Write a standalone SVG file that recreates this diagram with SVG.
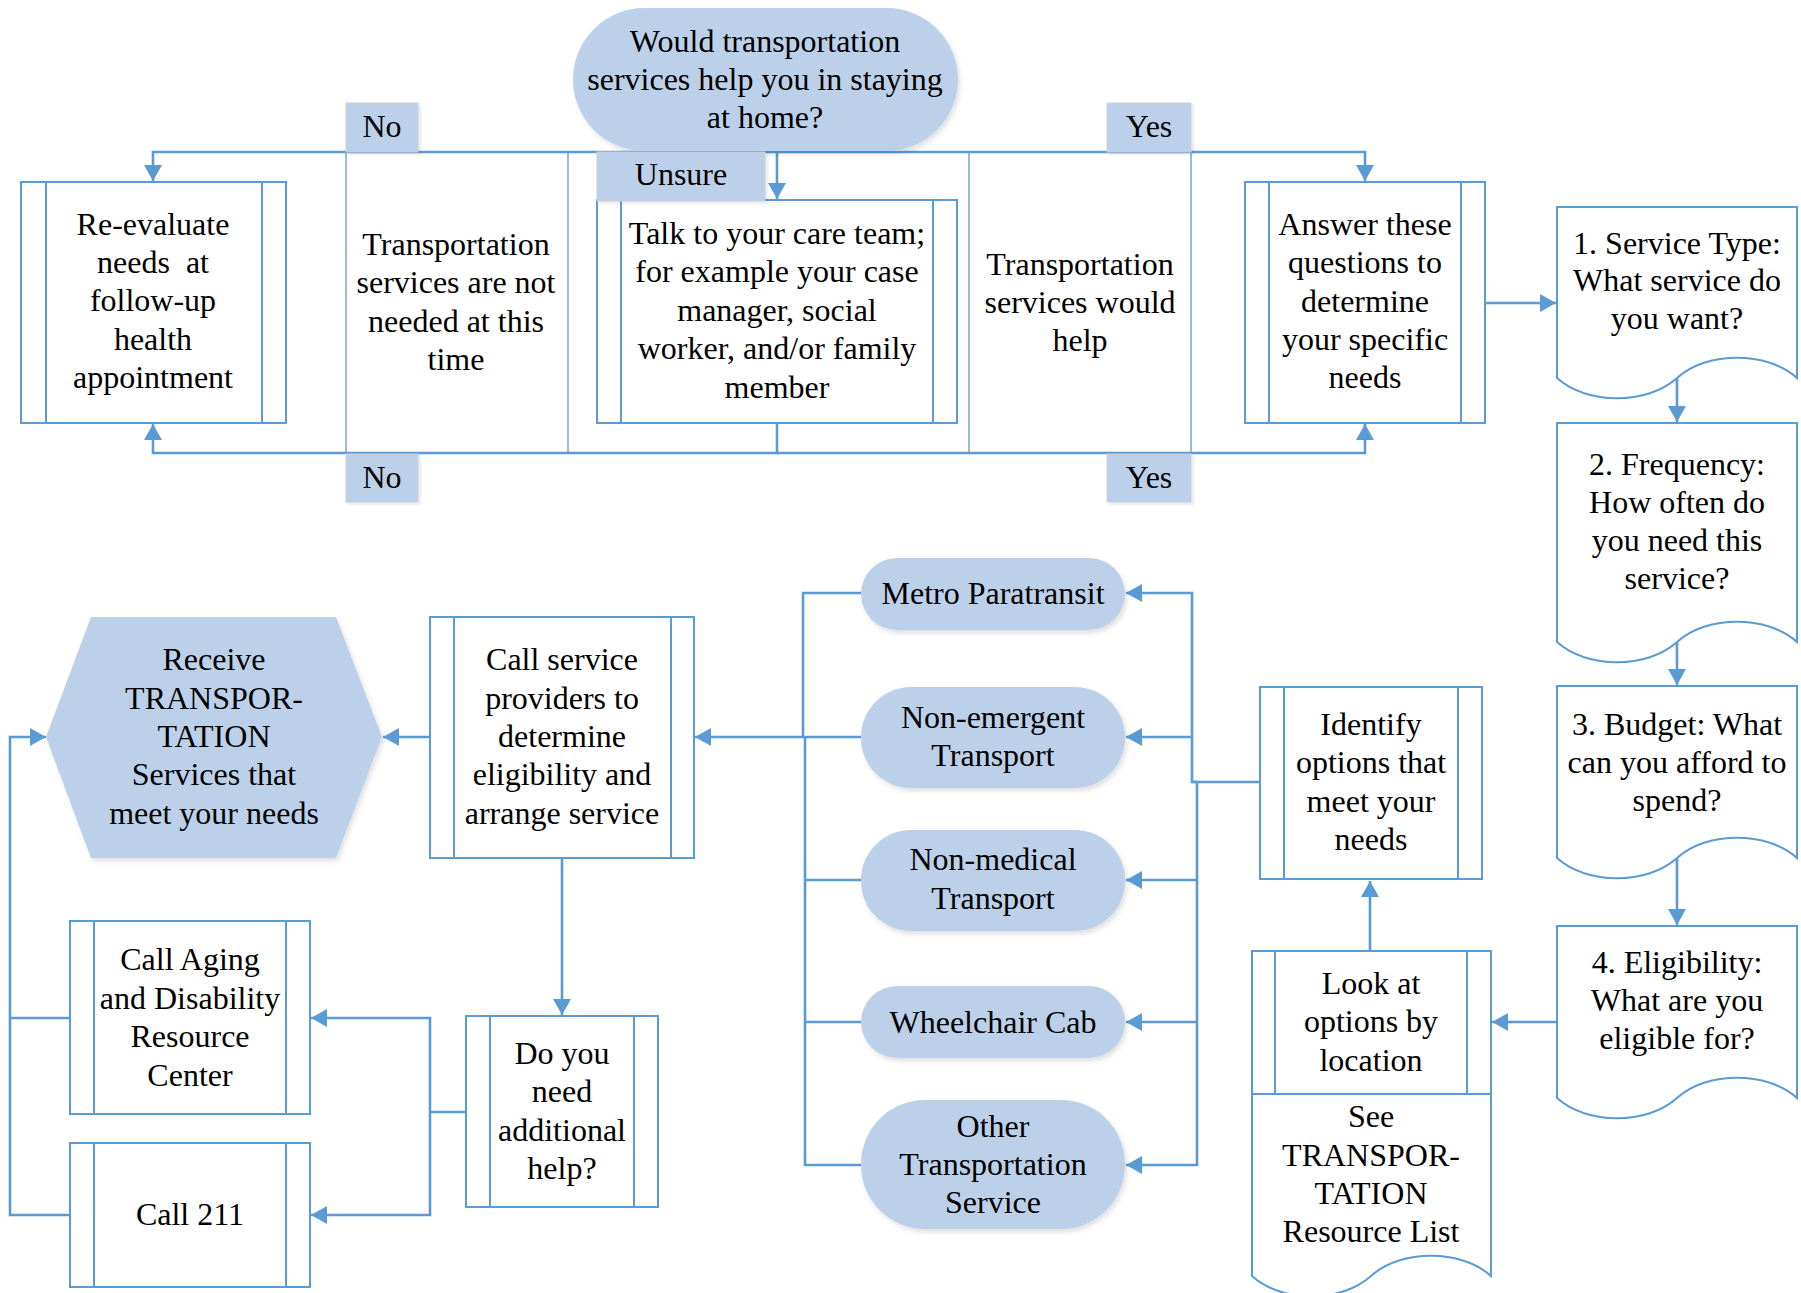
<svg xmlns="http://www.w3.org/2000/svg" width="1801" height="1293" viewBox="0 0 1801 1293">
<style>
text{font-family:"Liberation Serif","Times New Roman",serif;font-size:32px;fill:#000;text-anchor:middle}
.box{fill:#fff;stroke:#5B9BD5;stroke-width:2}
.in{stroke:#5B9BD5;stroke-width:2;fill:none}
.term{fill:#BDD0EA;filter:url(#sh)}
.lab{fill:#BDD0EA;stroke:#C9CFD9;stroke-width:1;filter:url(#sh2)}
.c{fill:none;stroke:#5B9BD5;stroke-width:2.6}
.ca{fill:none;stroke:#5B9BD5;stroke-width:2.6;marker-end:url(#ah)}
.thin{fill:none;stroke:#5B9BD5;stroke-width:1.3}
</style>
<defs>
<marker id="ah" markerUnits="userSpaceOnUse" markerWidth="16" markerHeight="18" viewBox="0 0 16 18" refX="16" refY="9" orient="auto"><path d="M0,0 L16,9 L0,18 z" fill="#5B9BD5"/></marker>
<filter id="sh" x="-10%" y="-10%" width="125%" height="130%"><feDropShadow dx="2" dy="3" stdDeviation="2.5" flood-color="#000" flood-opacity="0.13"/></filter>
<filter id="sh2" x="-10%" y="-10%" width="130%" height="140%"><feDropShadow dx="2" dy="2" stdDeviation="1.5" flood-color="#000" flood-opacity="0.1"/></filter>
</defs>

<g id="lanes">
<path class="thin" d="M346,152V453M568,152V453M969,152V453M1191,152V453"/>
</g>

<g id="connectors">
<path class="ca" d="M765,152H153V181"/>
<path class="ca" d="M765,152H1365V181"/>
<path class="ca" d="M777,152V199"/>
<path class="ca" d="M777,423V453H153V424"/>
<path class="ca" d="M777,453H1365V424"/>
<path class="ca" d="M1485,303H1556"/>
<path class="ca" d="M1677,378V422"/>
<path class="ca" d="M1677,642V685"/>
<path class="ca" d="M1677,858V925"/>
<path class="ca" d="M1556,1022H1492"/>
<path class="ca" d="M1370,952V881"/>
<path class="ca" d="M1260,782H1192V593H1126"/>
<path class="ca" d="M1192,737H1126"/>
<path class="ca" d="M1192,782H1197V1165H1126"/>
<path class="ca" d="M1197,880H1126"/>
<path class="ca" d="M1197,1022H1126"/>
<path class="c" d="M861,593H803V737"/>
<path class="ca" d="M861,737H695"/>
<path class="c" d="M805,737V1165H861M805,880H861M805,1022H861"/>
<path class="ca" d="M430,737H383"/>
<path class="ca" d="M562,858V1015"/>
<path class="c" d="M466,1112H430"/>
<path class="ca" d="M430,1112V1018H311"/>
<path class="ca" d="M430,1112V1215H311"/>
<path class="ca" d="M70,1018H10V737H46"/>
<path class="c" d="M70,1215H10V1018"/>
</g>

<g id="q-transport">
<rect class="term" x="573" y="8" width="385" height="143" rx="71.5" ry="71.5"/>
<text x="765" y="52">Would transportation</text>
<text x="765" y="90">services help you in staying</text>
<text x="765" y="128">at home?</text>
</g>

<g id="lbl-no-top"><rect class="lab" x="346" y="103" width="72" height="49"/><text x="382" y="137">No</text></g>
<g id="lbl-no-bottom"><rect class="lab" x="346" y="454" width="72" height="48"/><text x="382" y="488">No</text></g>
<g id="lbl-yes-top"><rect class="lab" x="1107" y="103" width="84" height="49"/><text x="1149" y="137">Yes</text></g>
<g id="lbl-yes-bottom"><rect class="lab" x="1107" y="454" width="84" height="48"/><text x="1149" y="488">Yes</text></g>

<g id="reevaluate">
<rect class="box" x="21" y="182" width="265" height="241"/>
<path class="in" d="M46,182V423M262,182V423"/>
<text x="153" y="235">Re-evaluate</text>
<text x="153" y="273" xml:space="preserve">needs  at</text>
<text x="153" y="311">follow-up</text>
<text x="153" y="350">health</text>
<text x="153" y="388">appointment</text>
</g>

<g id="not-needed">
<text x="456" y="255">Transportation</text>
<text x="456" y="293">services are not</text>
<text x="456" y="332">needed at this</text>
<text x="456" y="370">time</text>
</g>

<g id="talk">
<rect class="box" x="597" y="200" width="360" height="223"/>
<path class="in" d="M621,200V423M933,200V423"/>
<text x="777" y="244">Talk to your care team;</text>
<text x="777" y="282">for example your case</text>
<text x="777" y="321">manager, social</text>
<text x="777" y="359">worker, and/or family</text>
<text x="777" y="398">member</text>
</g>

<g id="lbl-unsure"><rect class="lab" x="597" y="152" width="168" height="49"/><text x="681" y="185">Unsure</text></g>

<g id="would-help">
<text x="1080" y="275">Transportation</text>
<text x="1080" y="313">services would</text>
<text x="1080" y="351">help</text>
</g>

<g id="answer">
<rect class="box" x="1245" y="182" width="240" height="241"/>
<path class="in" d="M1269,182V423M1461,182V423"/>
<text x="1365" y="235">Answer these</text>
<text x="1365" y="273">questions to</text>
<text x="1365" y="312">determine</text>
<text x="1365" y="350">your specific</text>
<text x="1365" y="388">needs</text>
</g>

<g id="service-type">
<path class="box" d="M1557,207H1797V378C1767,351 1707,351 1677,378C1647,405 1587,405 1557,378Z"/>
<text x="1677" y="254">1. Service Type:</text>
<text x="1677" y="291">What service do</text>
<text x="1677" y="329">you want?</text>
</g>

<g id="frequency">
<path class="box" d="M1557,423H1797V642C1767,615 1707,615 1677,642C1647,669 1587,669 1557,642Z"/>
<text x="1677" y="475">2. Frequency:</text>
<text x="1677" y="513">How often do</text>
<text x="1677" y="551">you need this</text>
<text x="1677" y="589">service?</text>
</g>

<g id="budget">
<path class="box" d="M1557,686H1797V858C1767,831 1707,831 1677,858C1647,885 1587,885 1557,858Z"/>
<text x="1677" y="735">3. Budget: What</text>
<text x="1677" y="773">can you afford to</text>
<text x="1677" y="811">spend?</text>
</g>

<g id="eligibility">
<path class="box" d="M1557,926H1797V1098C1767,1071 1707,1071 1677,1098C1647,1125 1587,1125 1557,1098Z"/>
<text x="1677" y="973">4. Eligibility:</text>
<text x="1677" y="1011">What are you</text>
<text x="1677" y="1049">eligible for?</text>
</g>

<g id="look-at">
<path class="box" d="M1252,951H1491V1276C1461,1249 1401,1249 1371,1276C1341,1303 1282,1303 1252,1276Z"/>
<path class="in" d="M1275,951V1094M1467,951V1094M1252,1094H1491"/>
<text x="1371" y="994">Look at</text>
<text x="1371" y="1032">options by</text>
<text x="1371" y="1071">location</text>
<text x="1371" y="1127">See</text>
<text x="1371" y="1166">TRANSPOR-</text>
<text x="1371" y="1204">TATION</text>
<text x="1371" y="1242">Resource List</text>
</g>

<g id="identify">
<rect class="box" x="1260" y="687" width="222" height="192"/>
<path class="in" d="M1284,687V879M1458,687V879"/>
<text x="1371" y="735">Identify</text>
<text x="1371" y="773">options that</text>
<text x="1371" y="812">meet your</text>
<text x="1371" y="850">needs</text>
</g>

<g id="metro">
<rect class="term" x="861" y="558" width="264" height="72" rx="36"/>
<text x="993" y="604">Metro Paratransit</text>
</g>
<g id="non-emergent">
<rect class="term" x="861" y="687" width="264" height="101" rx="50"/>
<text x="993" y="728">Non-emergent</text>
<text x="993" y="766">Transport</text>
</g>
<g id="non-medical">
<rect class="term" x="861" y="830" width="264" height="101" rx="50"/>
<text x="993" y="870">Non-medical</text>
<text x="993" y="909">Transport</text>
</g>
<g id="wheelchair">
<rect class="term" x="861" y="986" width="264" height="72" rx="36"/>
<text x="993" y="1033">Wheelchair Cab</text>
</g>
<g id="other">
<rect class="term" x="861" y="1100" width="264" height="129" rx="64"/>
<text x="993" y="1137">Other</text>
<text x="993" y="1175">Transportation</text>
<text x="993" y="1213">Service</text>
</g>

<g id="call-providers">
<rect class="box" x="430" y="617" width="264" height="241"/>
<path class="in" d="M454,617V858M671,617V858"/>
<text x="562" y="670">Call service</text>
<text x="562" y="709">providers to</text>
<text x="562" y="747">determine</text>
<text x="562" y="785">eligibility and</text>
<text x="562" y="824">arrange service</text>
</g>

<g id="receive">
<polygon class="term" points="91,617 336,617 382,737 336,858 91,858 46,737"/>
<text x="214" y="670">Receive</text>
<text x="214" y="709">TRANSPOR-</text>
<text x="214" y="747">TATION</text>
<text x="214" y="785">Services that</text>
<text x="214" y="824">meet your needs</text>
</g>

<g id="need-help">
<rect class="box" x="466" y="1016" width="192" height="191"/>
<path class="in" d="M490,1016V1207M634,1016V1207"/>
<text x="562" y="1064">Do you</text>
<text x="562" y="1102">need</text>
<text x="562" y="1141">additional</text>
<text x="562" y="1179">help?</text>
</g>

<g id="call-aging">
<rect class="box" x="70" y="921" width="240" height="193"/>
<path class="in" d="M94,921V1114M286,921V1114"/>
<text x="190" y="970">Call Aging</text>
<text x="190" y="1009">and Disability</text>
<text x="190" y="1047">Resource</text>
<text x="190" y="1086">Center</text>
</g>

<g id="call-211">
<rect class="box" x="70" y="1143" width="240" height="144"/>
<path class="in" d="M94,1143V1287M286,1143V1287"/>
<text x="190" y="1225">Call 211</text>
</g>
</svg>
